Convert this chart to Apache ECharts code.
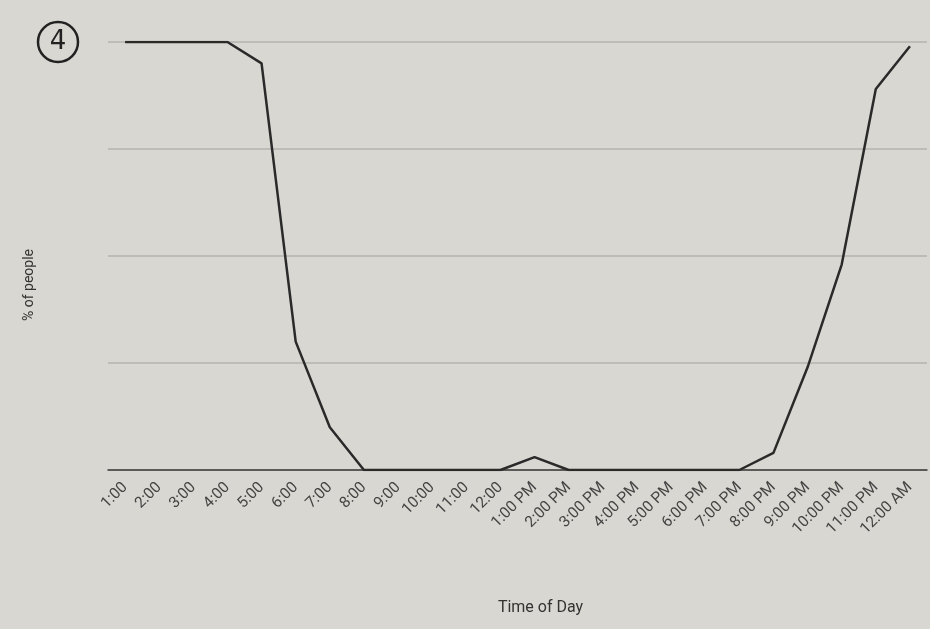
<!DOCTYPE html>
<html>
<head>
<meta charset="utf-8">
<script src="https://cdn.jsdelivr.net/npm/echarts@6/dist/echarts.min.js"></script>
<style>
  html, body { margin: 0; padding: 0; background: #d8d7d1; }
  #main { width: 930px; height: 629px; }
</style>
</head>
<body>
<div id="main"></div>
<script>
// hours along the x axis
const hours = [
  "1:00", "2:00", "3:00", "4:00", "5:00", "6:00", "7:00", "8:00", "9:00", "10:00", "11:00", "12:00",
  "1:00 PM", "2:00 PM", "3:00 PM", "4:00 PM", "5:00 PM", "6:00 PM", "7:00 PM", "8:00 PM",
  "9:00 PM", "10:00 PM", "11:00 PM", "12:00 AM"
];
// % of people
const percentPeople = [
  100, 100, 100, 100, 95, 30, 10, 0, 0, 0, 0, 0,
  3, 0, 0, 0, 0, 0, 0, 4,
  24, 48, 89, 99
];

const myChart = echarts.init(document.getElementById("main"));

const option = {
  backgroundColor: "#d8d7d1",
  textStyle: { fontFamily: "Roboto, 'DejaVu Sans', sans-serif" },
  // the circled number written on the page
  graphic: [
    {
      type: "circle",
      shape: { cx: 58, cy: 42, r: 20 },
      style: { fill: "none", stroke: "#222", lineWidth: 2.5 }
    },
    {
      type: "text",
      x: 58,
      y: 42,
      style: {
        text: "4",
        fill: "#222",
        font: "26px 'DejaVu Sans'",
        align: "center",
        verticalAlign: "middle"
      }
    }
  ],
  grid: {
    top: 42,
    bottom: 159,
    left: 108,
    right: 3
  },
  xAxis: {
    type: "category",
    data: hours,
    boundaryGap: true,
    name: "Time of Day",
    nameLocation: "middle",
    nameGap: 130,
    nameTextStyle: {
      color: "#333",
      fontSize: 16,
      padding: [0, 0, 0, 46]
    },
    axisLine: { show: true, lineStyle: { color: "#3a3a3a", width: 1.5 } },
    axisTick: { show: false },
    axisLabel: {
      interval: 0,
      rotate: 45,
      margin: 15,
      color: "#444",
      fontSize: 15.5
    }
  },
  yAxis: {
    type: "value",
    min: 0,
    max: 100,
    interval: 25,
    name: "% of people",
    nameLocation: "middle",
    nameGap: 72,
    nameTextStyle: { color: "#333", fontSize: 14, padding: [0, 0, 0, -58] },
    axisLine: { show: false },
    axisTick: { show: false },
    axisLabel: { show: false },
    splitLine: { show: true, lineStyle: { color: "#b4b3ae", width: 1.5 } }
  },
  series: [
    {
      name: "% of people",
      type: "line",
      data: percentPeople,
      symbol: "none",
      lineStyle: { color: "#2a2a2a", width: 2.5 },
      z: 3
    }
  ]
};

option && myChart.setOption(option);
</script>
</body>
</html>
